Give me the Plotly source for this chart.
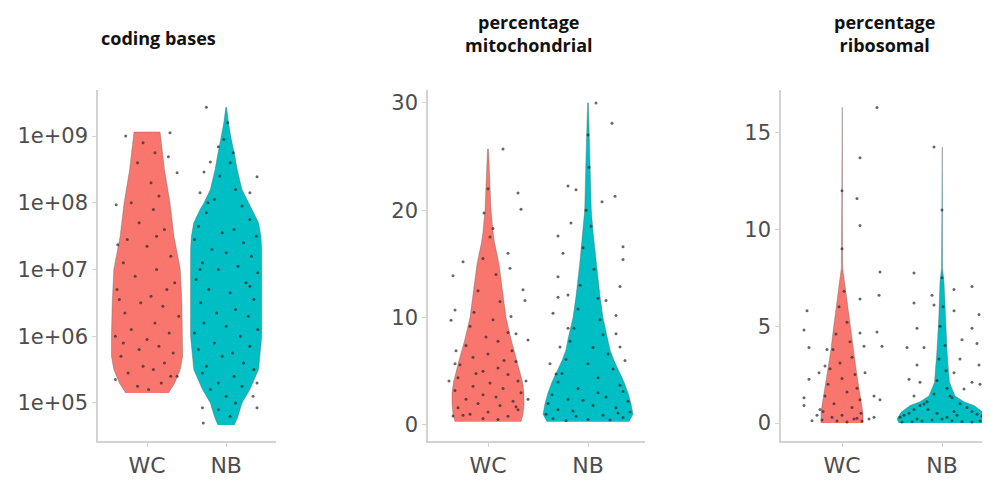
import plotly.graph_objects as go

# ---------------- data ----------------
categories = ["WC", "NB"]
panel_titles = ["coding bases", "percentage<br>mitochondrial", "percentage<br>ribosomal"]

# Violin outlines: value levels and half-widths (in category units)
# Panel 1: coding bases (log10 of value)
wc_coding_lvl = [5.15, 5.3, 5.5, 5.7, 6.0, 6.5, 7.0, 7.5, 8.0, 8.5, 9.06]
wc_coding_hw = [0.27, 0.35, 0.42, 0.45, 0.45, 0.44, 0.42, 0.34, 0.29, 0.22, 0.165]
nb_coding_lvl = [4.67, 4.8, 5.0, 5.2, 5.5, 6.0, 6.5, 7.0, 7.3, 7.5, 7.7, 7.9, 8.0, 8.2, 8.5, 8.7, 9.0, 9.2, 9.43]
nb_coding_hw = [0.105, 0.15, 0.2, 0.30, 0.41, 0.45, 0.45, 0.45, 0.45, 0.44, 0.41, 0.33, 0.28, 0.2, 0.14, 0.11, 0.057, 0.03, 0.005]

# Panel 2: percentage mitochondrial
wc_mito_lvl = [0.3, 1, 2, 3, 4, 5, 6, 7, 8, 10, 12, 15, 17, 18, 20, 23, 25.7]
wc_mito_hw = [0.33, 0.35, 0.36, 0.36, 0.345, 0.32, 0.29, 0.26, 0.23, 0.18, 0.15, 0.11, 0.065, 0.05, 0.03, 0.015, 0.005]
nb_mito_lvl = [0.3, 1, 2, 3, 4, 5, 6, 7, 8, 10, 12, 15, 18, 20, 25, 30]
nb_mito_hw = [0.41, 0.45, 0.43, 0.40, 0.36, 0.31, 0.26, 0.22, 0.2, 0.15, 0.12, 0.083, 0.05, 0.033, 0.02, 0.004]

# Panel 3: percentage ribosomal
wc_ribo_lvl = [0.0, 0.5, 0.9, 1.5, 2.1, 3.0, 3.8, 4.7, 5.5, 6.5, 7.3, 8, 10, 16.3]
wc_ribo_hw = [0.21, 0.21, 0.2, 0.18, 0.16, 0.135, 0.11, 0.09, 0.067, 0.045, 0.025, 0.006, 0.004, 0.003]
nb_ribo_lvl = [0.0, 0.2, 0.55, 0.9, 1.1, 1.4, 2.1, 3.0, 3.8, 5.5, 7.3, 8, 10, 14.25]
nb_ribo_hw = [0.43, 0.45, 0.41, 0.32, 0.22, 0.13, 0.075, 0.06, 0.05, 0.032, 0.02, 0.005, 0.004, 0.003]

# Jittered cells: (jitter offset, value)
wc_coding_pts = [(-0.27, 9.0), (0.29, 9.05), (0.27, 8.69), (0.38, 8.45), (-0.39, 7.97), (-0.37, 7.37),
    (-0.05, 8.9), (0.1, 8.75), (-0.12, 8.6), (0.05, 8.3), (0.15, 8.1), (-0.2, 8.0), (0.08, 7.9),
    (-0.1, 7.7), (0.22, 7.6), (-0.25, 7.45), (0.0, 7.35), (0.3, 7.2), (-0.3, 7.1), (0.12, 7.0),
    (-0.15, 6.9), (0.35, 6.8), (-0.38, 6.7), (0.05, 6.6), (-0.08, 6.5), (0.2, 6.45), (-0.28, 6.35),
    (0.4, 6.3), (0.1, 6.2), (-0.2, 6.1), (0.28, 6.05), (-0.4, 6.0), (0.0, 5.95), (0.15, 5.85),
    (-0.1, 5.8), (0.33, 5.75), (-0.33, 5.7), (0.22, 5.6), (-0.05, 5.55), (0.08, 5.5), (-0.24, 5.45),
    (0.38, 5.4), (-0.4, 5.35), (0.18, 5.3), (-0.12, 5.25), (0.02, 5.2), (0.3, 5.4), (-0.3, 5.9),
    (0.25, 6.7), (-0.35, 6.55), (0.12, 7.5)]
nb_coding_pts = [(-0.25, 9.43), (-0.1, 8.84), (-0.2, 8.61), (0.09, 8.75), (-0.28, 8.46), (0.39, 8.39),
    (-0.33, 8.15), (-0.23, 8.0), (0.30, 8.15), (-0.3, 4.93), (-0.29, 4.7), (0.39, 5.3), (0.39, 4.93),
    (0.34, 5.1), (0.02, 9.2), (-0.03, 8.95), (0.05, 8.6), (-0.08, 8.4), (0.12, 8.2), (-0.15, 8.05),
    (0.2, 7.95), (-0.25, 7.85), (0.3, 7.75), (-0.35, 7.65), (0.1, 7.6), (-0.05, 7.55), (0.38, 7.5),
    (-0.4, 7.45), (0.22, 7.4), (-0.18, 7.3), (0.0, 7.25), (0.32, 7.2), (-0.3, 7.1), (0.15, 7.05),
    (-0.1, 7.0), (0.4, 6.95), (-0.38, 6.85), (0.25, 6.8), (-0.22, 6.7), (0.05, 6.65), (0.35, 6.55),
    (-0.32, 6.5), (0.12, 6.4), (-0.12, 6.35), (0.28, 6.3), (-0.28, 6.2), (0.0, 6.15), (0.4, 6.1),
    (-0.4, 6.05), (0.18, 6.0), (-0.15, 5.9), (0.3, 5.85), (-0.35, 5.8), (0.08, 5.75), (-0.05, 5.7),
    (0.22, 5.6), (-0.25, 5.55), (0.35, 5.5), (-0.3, 5.45), (0.1, 5.4), (-0.1, 5.3), (0.2, 5.25),
    (-0.2, 5.2), (0.0, 5.1), (0.12, 5.0), (-0.1, 4.9), (0.05, 4.8), (0.3, 6.75), (-0.33, 7.0)]

wc_mito_pts = [(0.15, 25.7), (0.30, 21.6), (0.33, 20.1), (0.2, 16.0), (-0.25, 15.2), (-0.35, 13.9),
    (0.22, 14.6), (0.35, 12.6), (0.37, 11.6), (0.23, 10.1), (-0.33, 10.7), (-0.37, 9.75), (0.28, 8.5),
    (0.4, 7.9), (-0.32, 6.9), (-0.33, 5.7), (-0.39, 4.1), (0.38, 4.1), (0.4, 2.4), (-0.35, 0.84),
    (-0.04, 19.75), (0.05, 18.3), (0.0, 22), (0.02, 17.5), (-0.05, 15.5), (0.08, 14), (-0.1, 12.5),
    (0.12, 11.5), (-0.14, 10.5), (0.05, 9.8), (-0.18, 9.2), (0.2, 8.6), (-0.02, 8.2), (0.1, 7.8),
    (-0.22, 7.4), (0.24, 6.9), (0.0, 6.6), (-0.15, 6.3), (0.28, 5.9), (-0.28, 5.6), (0.1, 5.3),
    (-0.05, 5.0), (0.2, 4.7), (-0.3, 4.4), (0.3, 4.1), (0.02, 3.9), (-0.15, 3.6), (0.15, 3.4),
    (-0.33, 3.2), (0.33, 3.0), (-0.05, 2.8), (0.08, 2.6), (-0.22, 2.4), (0.25, 2.2), (-0.1, 2.0),
    (0.12, 1.8), (-0.3, 1.6), (0.3, 1.4), (0.0, 1.2), (-0.18, 1.0), (0.2, 0.8), (-0.05, 0.6),
    (0.1, 0.5), (-0.25, 0.9), (0.28, 1.7), (-0.12, 4.8), (0.16, 6.0)]
nb_mito_pts = [(0.08, 30), (0.24, 28.1), (0.27, 21.3), (0.14, 20.8), (-0.2, 22.25), (-0.12, 21.9),
    (-0.17, 18.8), (-0.3, 17.6), (-0.25, 16), (0.35, 16.6), (0.35, 15.4), (-0.3, 13.8), (-0.2, 12.1),
    (-0.3, 11.9), (0.32, 12.9), (-0.35, 10.4), (0.28, 10.2), (0.18, 11.6), (-0.2, 9), (-0.28, 7.25),
    (0.28, 8.5), (0.37, 6), (0.32, 7.25), (-0.38, 5.7), (-0.32, 4.75), (0.0, 27), (0.01, 24),
    (-0.02, 20), (0.03, 18.5), (-0.05, 16.5), (0.06, 14.5), (-0.08, 13), (0.1, 11.8), (-0.1, 10.8),
    (0.12, 9.8), (-0.14, 9.0), (0.15, 8.4), (-0.18, 7.8), (0.05, 7.2), (0.2, 6.6), (-0.22, 6.1),
    (0.0, 5.7), (0.25, 5.2), (-0.26, 4.8), (0.1, 4.4), (-0.3, 4.0), (0.32, 3.7), (-0.1, 3.4),
    (0.35, 3.1), (-0.36, 2.8), (0.18, 2.6), (-0.2, 2.4), (0.4, 2.2), (-0.4, 2.0), (0.05, 1.8),
    (0.28, 1.6), (-0.3, 1.4), (0.42, 1.2), (-0.42, 1.0), (0.15, 0.9), (-0.12, 0.8), (0.35, 0.7),
    (-0.35, 0.6), (0.0, 0.5), (0.22, 0.45), (-0.22, 0.4), (0.3, 1.1), (-0.05, 2.3), (0.1, 3.0),
    (-0.15, 1.3)]

wc_ribo_pts = [(0.35, 16.3), (0.18, 13.7), (0.15, 11.6), (0.18, 10.2), (0.38, 7.8), (0.37, 6.6),
    (0.18, 6.4), (-0.35, 5.8), (-0.38, 4.8), (-0.33, 3.9), (0.18, 4.65), (0.22, 3.97), (0.35, 4.7),
    (0.4, 3.97), (-0.15, 3.8), (-0.17, 2.95), (-0.23, 2.6), (-0.33, 2.26), (-0.38, 1.3), (-0.38, 0.9),
    (0.32, 1.4), (0.38, 1.2), (0.23, 2.6), (-0.25, 0.4), (-0.3, 0.12), (0.32, 0.3), (0.27, 0.2),
    (-0.22, 0.7), (0.0, 9), (0.0, 12), (0.02, 6.8), (-0.03, 6.0), (0.05, 5.2), (-0.06, 4.6),
    (0.08, 4.2), (-0.09, 3.8), (0.1, 3.4), (-0.02, 3.1), (-0.12, 2.8), (0.13, 2.5), (0.0, 2.3),
    (-0.14, 2.0), (0.15, 1.8), (0.05, 1.6), (-0.17, 1.4), (0.18, 1.2), (-0.08, 1.0), (0.1, 0.8),
    (-0.19, 0.6), (0.19, 0.5), (0.0, 0.4), (-0.1, 0.3), (0.12, 0.2), (-0.2, 0.15), (0.2, 0.1),
    (0.05, 0.05), (-0.05, 0.1), (0.15, 0.25)]
nb_ribo_pts = [(-0.08, 14.25), (-0.28, 7.75), (-0.28, 6.2), (-0.1, 6.6), (-0.08, 6.1), (-0.25, 4.9),
    (-0.35, 3.9), (-0.18, 3.9), (0.12, 6.9), (0.3, 7.05), (0.12, 5.8), (0.37, 5.6), (0.3, 4.9),
    (0.2, 4.3), (0.35, 4.1), (0.37, 3.0), (0.18, 3.3), (-0.25, 3.0), (-0.33, 2.26), (-0.22, 2.1),
    (0.3, 2.1), (0.38, 2.0), (0.22, 1.75), (-0.28, 1.4), (-0.18, 0.98), (0.08, 1.4), (0.12, 2.6),
    (0.0, 11), (0.0, 7.5), (0.01, 6.0), (-0.02, 5.0), (0.03, 4.0), (-0.03, 3.3), (0.04, 2.7),
    (-0.05, 2.2), (0.05, 1.8), (-0.08, 1.5), (0.1, 1.3), (-0.15, 1.1), (0.18, 1.0), (-0.22, 0.9),
    (0.25, 0.8), (-0.28, 0.7), (0.3, 0.6), (-0.33, 0.5), (0.35, 0.45), (-0.38, 0.4), (0.4, 0.35),
    (-0.42, 0.3), (0.42, 0.25), (0.0, 0.2), (-0.1, 0.15), (0.1, 0.12), (-0.2, 0.1), (0.2, 0.08),
    (-0.3, 0.06), (0.3, 0.05), (0.05, 0.3), (-0.05, 0.5), (0.15, 0.4), (-0.25, 0.2), (0.38, 0.1),
    (-0.4, 0.05), (0.12, 0.6), (-0.14, 0.7)]

# ---------------- styling ----------------
colors = ["#F8766D", "#00BFC4"]
pt_color = "rgba(40,40,40,0.7)"
axis_col = "#d3d3d3"
tick_font = dict(family="DejaVu Sans", size=21, color="#4D4D4D")

# the page body has an 8px margin, so the figure is laid out 8px smaller
OFF = 8
W, H = 990 - OFF, 481 - OFF


def fx(px):
    return (px - OFF) / W


def fy(py):
    return 1 - (py - OFF) / H


fig = go.Figure()

panels = [
    ("x", "y", [(wc_coding_lvl, wc_coding_hw, wc_coding_pts), (nb_coding_lvl, nb_coding_hw, nb_coding_pts)], True),
    ("x2", "y2", [(wc_mito_lvl, wc_mito_hw, wc_mito_pts), (nb_mito_lvl, nb_mito_hw, nb_mito_pts)], False),
    ("x3", "y3", [(wc_ribo_lvl, wc_ribo_hw, wc_ribo_pts), (nb_ribo_lvl, nb_ribo_hw, nb_ribo_pts)], False),
]

for xa, ya, groups, is_log in panels:
    for ci, (lvl, hw, pts) in enumerate(groups):
        conv = (lambda v: 10 ** v) if is_log else (lambda v: v)
        xs = [ci - w for w in hw] + [ci + w for w in reversed(hw)]
        ys = [conv(v) for v in lvl] + [conv(v) for v in reversed(lvl)]
        fig.add_trace(go.Scatter(x=xs, y=ys, xaxis=xa, yaxis=ya, mode="lines", fill="toself",
                                 fillcolor=colors[ci], line=dict(color="rgba(90,90,90,0.6)", width=0.6),
                                 hoverinfo="skip", showlegend=False))
        fig.add_trace(go.Scatter(x=[ci + p[0] for p in pts], y=[conv(p[1]) for p in pts],
                                 xaxis=xa, yaxis=ya, mode="markers",
                                 marker=dict(size=3, color=pt_color), showlegend=False,
                                 hoverinfo="skip"))

common_x = dict(showgrid=False, zeroline=False, showline=True, linecolor=axis_col, linewidth=1.5,
                ticks="outside", ticklen=4, tickcolor=axis_col, tickvals=[0, 1], ticktext=categories,
                tickfont=dict(family="DejaVu Sans", size=22, color="#4D4D4D"))
common_y = dict(showgrid=False, zeroline=False, showline=True, linecolor=axis_col, linewidth=1.5,
                ticks="outside", ticklen=4, tickcolor=axis_col, tickfont=tick_font)

ydom = [fy(441), fy(90)]
fig.update_layout(
    width=W, height=H, margin=dict(l=0, r=0, t=0, b=0),
    paper_bgcolor="white", plot_bgcolor="white",
    xaxis=dict(common_x, domain=[fx(98), fx(276)], range=[-0.62, 1.63], anchor="y"),
    yaxis=dict(common_y, domain=ydom, type="log", range=[4.43, 9.69], anchor="x",
               tickvals=[1e5, 1e6, 1e7, 1e8, 1e9], ticktext=["1e+05", "1e+06", "1e+07", "1e+08", "1e+09"]),
    xaxis2=dict(common_x, domain=[fx(428), fx(645)], range=[-0.6, 1.57], anchor="y2"),
    yaxis2=dict(common_y, domain=ydom, range=[-1.5, 31.2], anchor="x2", tickvals=[0, 10, 20, 30]),
    xaxis3=dict(common_x, domain=[fx(781), 1.0], range=[-0.61, 1.48], anchor="y3"),
    yaxis3=dict(common_y, domain=ydom, range=[-0.93, 17.2], anchor="x3", tickvals=[0, 5, 10, 15]),
)

title_pos = [(158, 38), (529, 33), (884, 33)]
for t, (px, py) in zip(panel_titles, title_pos):
    fig.add_annotation(text="<b>" + t + "</b>", x=fx(px), y=fy(py), xref="paper", yref="paper",
                       xanchor="center", yanchor="middle", showarrow=False,
                       font=dict(family="Open Sans", size=18, color="#111111"))

fig.write_html("out.html")
